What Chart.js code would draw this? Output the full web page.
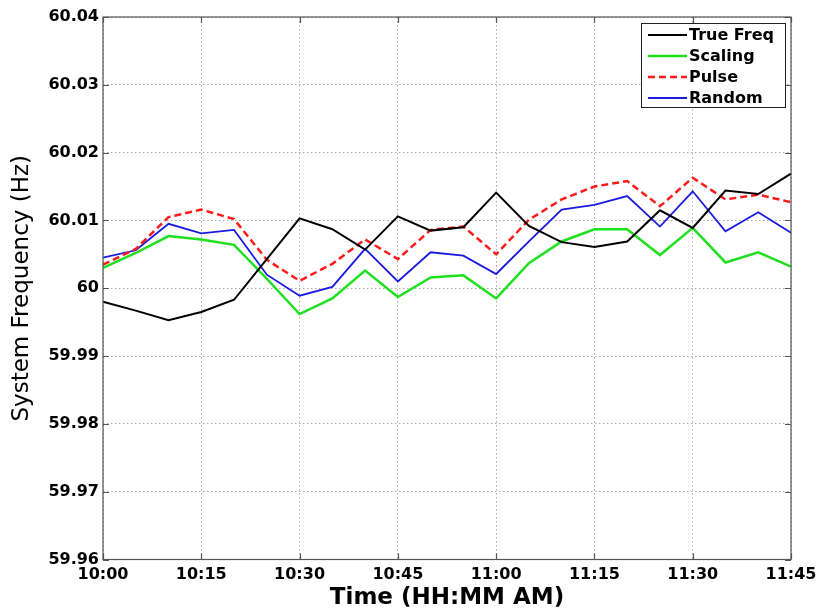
<!DOCTYPE html>
<html>
<head>
  <title>System Frequency</title>
  <script src="https://cdn.jsdelivr.net/npm/chart.js"></script>
  <style>
    body { margin: 0; background: #fff; }
    #wrap { width: 818px; height: 612px; position: relative; }
  </style>
</head>
<body>
  <div id="wrap"><canvas id="chart"></canvas></div>

  <script>
    // time every 5 min, only every 15 min gets a label
    const times = ['10:00','10:05','10:10','10:15','10:20','10:25','10:30','10:35','10:40','10:45','10:50',
                   '10:55','11:00','11:05','11:10','11:15','11:20','11:25','11:30','11:35','11:40','11:45'];
    const trueFreq = [59.9980, 59.9967, 59.9953, 59.9965, 59.9983, 60.0043, 60.0103, 60.0087, 60.0057, 60.0106, 60.0085,
                      60.0090, 60.0141, 60.0092, 60.0068, 60.0061, 60.0069, 60.0115, 60.0089, 60.0144, 60.0139, 60.0169];
    const scaling  = [60.0030, 60.0052, 60.0077, 60.0072, 60.0064, 60.0014, 59.9962, 59.9985, 60.0026, 59.9987, 60.0016,
                      60.0019, 59.9985, 60.0037, 60.0069, 60.0087, 60.0087, 60.0049, 60.0089, 60.0038, 60.0053, 60.0032];
    const pulse    = [60.0035, 60.0058, 60.0105, 60.0116, 60.0102, 60.0042, 60.0011, 60.0036, 60.0072, 60.0043, 60.0086,
                      60.0091, 60.0050, 60.0101, 60.0131, 60.0150, 60.0158, 60.0121, 60.0163, 60.0131, 60.0138, 60.0127];
    const random   = [60.0045, 60.0056, 60.0095, 60.0081, 60.0086, 60.0020, 59.9989, 60.0002, 60.0058, 60.0010, 60.0053,
                      60.0048, 60.0021, 60.0069, 60.0116, 60.0123, 60.0136, 60.0091, 60.0143, 60.0084, 60.0112, 60.0082];
    const yMin = 59.96, yMax = 60.04, yStep = 0.01;

    const font = "'DejaVu Sans', sans-serif";

    // box around the plot, inward ticks, legend in the top right corner
    const matlabBox = {
      id: 'matlabBox',
      afterDraw(chart) {
        const ctx = chart.ctx;
        const a = chart.chartArea;
        const xs = chart.scales.x, ys = chart.scales.y;
        ctx.save();
        ctx.strokeStyle = '#555';
        ctx.lineWidth = 1.2;
        ctx.setLineDash([]);
        ctx.strokeRect(a.left, a.top, a.right - a.left, a.bottom - a.top);
        ctx.beginPath();
        times.forEach((t, i) => {
          if (i % 3 !== 0) return;
          const x = Math.round(xs.getPixelForValue(i)) + 0.5;
          ctx.moveTo(x, a.bottom); ctx.lineTo(x, a.bottom - 6);
          ctx.moveTo(x, a.top); ctx.lineTo(x, a.top + 6);
        });
        for (let v = yMin; v <= yMax + 1e-9; v += yStep) {
          const y = Math.round(ys.getPixelForValue(v)) + 0.5;
          ctx.moveTo(a.left, y); ctx.lineTo(a.left + 6, y);
          ctx.moveTo(a.right, y); ctx.lineTo(a.right - 6, y);
        }
        ctx.stroke();

        // legend
        const lx = 641, ly = 23, lw = 144, lh = 84;
        ctx.fillStyle = '#fff';
        ctx.fillRect(lx, ly, lw, lh);
        ctx.strokeStyle = '#222';
        ctx.lineWidth = 1;
        ctx.strokeRect(lx + 0.5, ly + 0.5, lw, lh);
        ctx.font = 'bold 16px ' + font;
        ctx.textBaseline = 'middle';
        chart.data.datasets.forEach((ds, i) => {
          const y = ly + 12 + i * 21;
          ctx.beginPath();
          ctx.strokeStyle = ds.borderColor;
          ctx.lineWidth = ds.borderWidth;
          ctx.setLineDash(ds.borderDash || []);
          ctx.moveTo(648, y); ctx.lineTo(687, y);
          ctx.stroke();
          ctx.setLineDash([]);
          ctx.fillStyle = '#000';
          ctx.fillText(ds.label, 689, y + 1);
        });
        ctx.restore();
      }
    };

    const ctx = document.getElementById('chart').getContext('2d');
    new Chart(ctx, {
      type: 'line',
      data: {
        labels: times,
        datasets: [
          { label: 'True Freq', data: trueFreq, borderColor: '#000000', borderWidth: 2 },
          { label: 'Scaling', data: scaling, borderColor: '#1ee01e', borderWidth: 2.5 },
          { label: 'Pulse', data: pulse, borderColor: '#ff1a1a', borderWidth: 2.5, borderDash: [7, 4] },
          { label: 'Random', data: random, borderColor: '#1a1ae0', borderWidth: 1.8 }
        ]
      },
      options: {
        responsive: true,
        maintainAspectRatio: false,
        animation: false,
        elements: { point: { radius: 0 }, line: { tension: 0 } },
        layout: { padding: { top: 17, right: 27, left: 0, bottom: 0 } },
        plugins: { legend: { display: false }, tooltip: { enabled: false } },
        scales: {
          x: {
            type: 'category',
            offset: false,
            afterFit: s => { s.height = 52.5; s.paddingLeft = 0; s.paddingRight = 0; },
            grid: { color: '#a8a8a8', drawTicks: false },
            border: { display: false, dash: [1.5, 2.5] },
            ticks: {
              autoSkip: false, maxRotation: 0, padding: 6, color: '#000',
              font: { family: font, size: 16, weight: 'bold' },
              callback: (v, i) => (i % 3 === 0 ? times[i] : null)
            },
            title: {
              display: true, text: 'Time (HH:MM AM)', color: '#000',
              font: { family: font, size: 23, weight: 'bold' },
              padding: { top: 0, bottom: 0 }
            }
          },
          y: {
            min: yMin, max: yMax,
            afterFit: s => { s.width = 103; s.paddingTop = 0; s.paddingBottom = 0; },
            grid: { color: '#a8a8a8', drawTicks: false },
            border: { display: false, dash: [1.5, 2.5] },
            ticks: {
              stepSize: yStep, padding: 4, color: '#000',
              font: { family: font, size: 16, weight: 'bold' },
              callback: v => String(Number(v.toFixed(2)))
            },
            title: {
              display: true, text: 'System Frequency (Hz)', color: '#000',
              font: { family: font, size: 23 },
              padding: { top: 8, bottom: 0 }
            }
          }
        }
      },
      plugins: [matlabBox]
    });
  </script>
</body>
</html>
